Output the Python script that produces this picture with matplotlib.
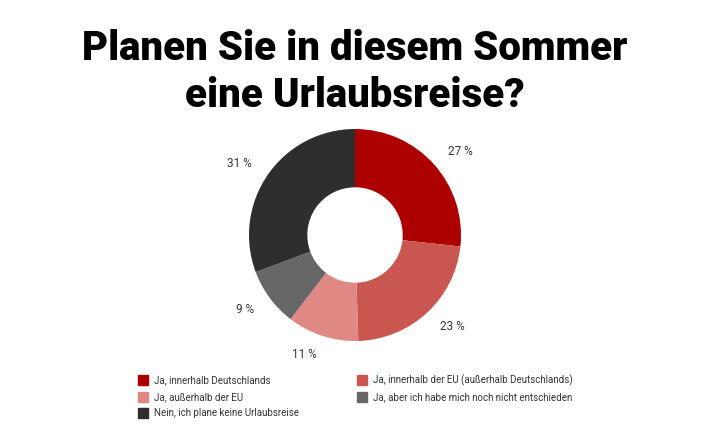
import matplotlib
matplotlib.use("Agg")
import matplotlib.pyplot as plt
from matplotlib.patches import Rectangle

# data
labels = ["Ja, innerhalb Deutschlands",
          "Ja, innerhalb der EU (außerhalb Deutschlands)",
          "Ja, außerhalb der EU",
          "Ja, aber ich habe mich noch nicht entschieden",
          "Nein, ich plane keine Urlaubsreise"]
values = [27, 23, 11, 9, 31]
colors = ["#ad0000", "#c9574f", "#e08884", "#676767", "#2e2e2e"]
title = "Planen Sie in diesem Sommer\neine Urlaubsreise?"

W, H = 710, 444
fig = plt.figure(figsize=(W / 100, H / 100), dpi=100)
fig.patch.set_facecolor("white")

fig.text(355 / W, 1 - 72 / H, title, ha="center", va="center",
         fontsize=29, fontweight=900, family="Roboto",
         linespacing=1.25, color="black")

# donut
cx, cy, r = 355, 235, 106
ax = fig.add_axes([(cx - r) / W, 1 - (cy + r) / H, 2 * r / W, 2 * r / H])
wedges, texts = ax.pie(values, colors=colors, startangle=90, counterclock=False,
                       radius=1, labels=[f"{v} %" for v in values],
                       labeldistance=1.18,
                       wedgeprops=dict(width=0.55, linewidth=0),
                       textprops=dict(fontsize=8.5, color="#333333", family="Roboto"))
ax.set_xlim(-1, 1)
ax.set_ylim(-1, 1)
ax.set_aspect("equal")
ax.axis("off")

# legend
pos = [(143, 380), (362, 380), (143, 397), (362, 397), (143, 413)]
for (x, y), lab, c in zip(pos, labels, colors):
    fig.patches.append(Rectangle(((x - 5) / W, 1 - (y + 5) / H), 10 / W, 10 / H,
                                 transform=fig.transFigure, color=c))
    fig.text((x + 11) / W, 1 - y / H, lab, ha="left", va="center",
             fontsize=7, color="#333333", family="Roboto")

fig.savefig("out.png", dpi=100)
